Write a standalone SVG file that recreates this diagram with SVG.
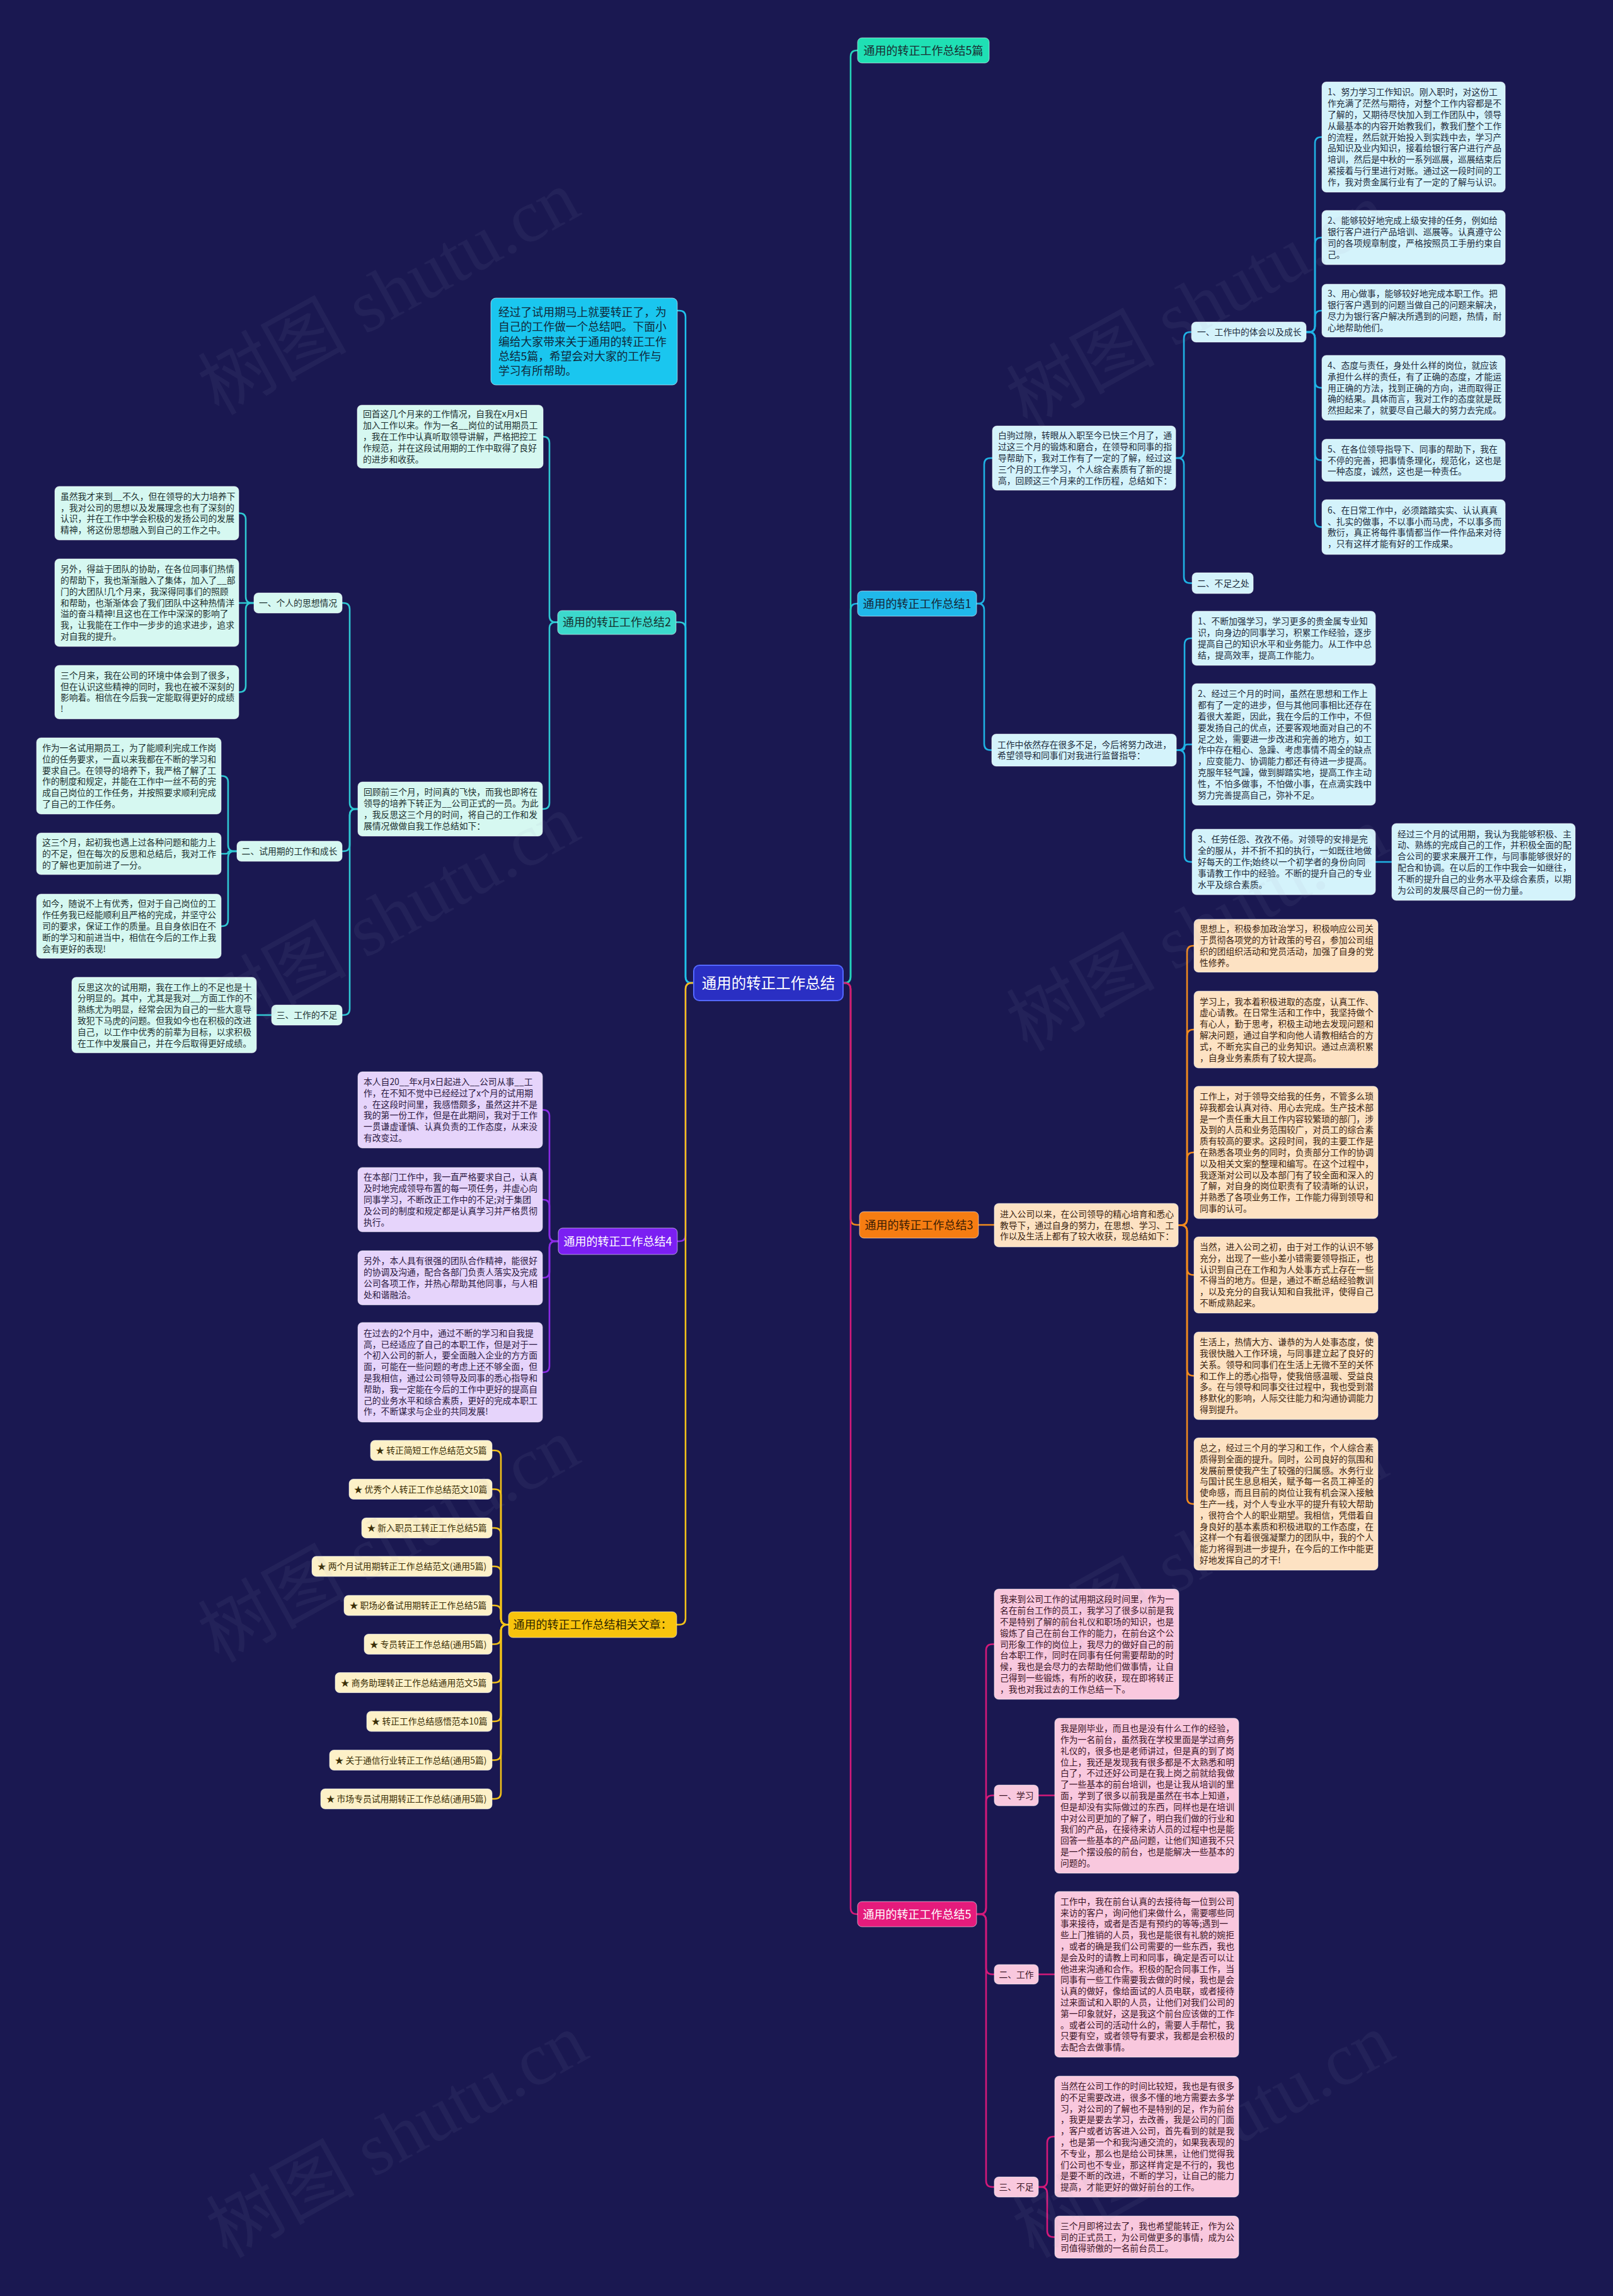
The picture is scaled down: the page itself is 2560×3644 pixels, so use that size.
<svg xmlns="http://www.w3.org/2000/svg" width="2560" height="3644" viewBox="0 0 2560 3644">
<style>
.t{font-family:"Noto Sans CJK SC","Noto Sans",sans-serif;font-size:13.8px}
.m{font-family:"Noto Sans CJK SC","Noto Sans",sans-serif;font-size:18px}
.c{fill:none;stroke-width:2.6;stroke-linecap:round;stroke-linejoin:round}
.bx{stroke:#ffffff;stroke-opacity:.55;stroke-width:1}
.blue rect{fill:#d4f3fb}.blue text{fill:#1c2b3c}
.aqua rect{fill:#d6f8f1}.aqua text{fill:#1c3030}
.org rect{fill:#fde2c3}.org text{fill:#3b2410}
.pnk rect{fill:#f9c8de}.pnk text{fill:#3b1526}
.pur rect{fill:#e6d4fb}.pur text{fill:#2a1840}
.yel rect{fill:#fdf1c8}.yel text{fill:#3a2e05}
.wm{font-family:"Liberation Serif","Noto Sans CJK SC",serif;font-size:118px;fill:#a0a0c0;opacity:.07}
</style>
<rect width="2560" height="3644" fill="#1a1851"/>

<g id="connectors">
<path class="c" stroke="#1fb2e4" d="M1338,1560 H1340 Q1350,1560 1350,1550 V968 Q1350,958 1360,958 H1362"/>
<path class="c" stroke="#25d4b8" d="M1338,1560 H1340 Q1350,1560 1350,1550 V90 Q1350,80 1360,80 H1362"/>
<path class="c" stroke="#f08a1e" d="M1338,1560 H1340 Q1350,1560 1350,1570 V1934 Q1350,1944 1360,1944 H1364"/>
<path class="c" stroke="#d4197a" d="M1338,1560 H1340 Q1350,1560 1350,1570 V3028 Q1350,3038 1360,3038 H1362"/>
<path class="c" stroke="#2fc8d2" d="M1101,1560 H1098 Q1088,1560 1088,1550 V997.5 Q1088,987.5 1078,987.5 H1073"/>
<path class="c" stroke="#1fc2ec" d="M1101,1560 H1098 Q1088,1560 1088,1550 V503 Q1088,493 1078,493 H1075"/>
<path class="c" stroke="#8b2be6" d="M1101,1560 H1098 Q1088,1560 1088,1570 V1960 Q1088,1970 1078,1970 H1075"/>
<path class="c" stroke="#f2c21a" d="M1101,1560 H1098 Q1088,1560 1088,1570 V2568.5 Q1088,2578.5 1078,2578.5 H1074"/>

<g stroke="#1fb2e4" class="c">
<path d="M1550,958 H1552 Q1562,958 1562,948 V737 Q1562,727 1572,727 H1575"/>
<path d="M1550,958 H1552 Q1562,958 1562,968 V1180.5 Q1562,1190.5 1572,1190.5 H1574"/>
<path d="M1866,727 H1869 Q1879,727 1879,717 V537 Q1879,527 1889,527 H1891"/>
<path d="M1866,727 H1869 Q1879,727 1879,737 V915.5 Q1879,925.5 1889,925.5 H1892"/>
<path d="M2073,527 H2077 Q2087,527 2087,517 V227.5 Q2087,217.5 2097,217.5 H2098"/>
<path d="M2073,527 H2077 Q2087,527 2087,517 V387 Q2087,377 2097,377 H2098"/>
<path d="M2073,527 H2077 Q2087,527 2087,517 V503 Q2087,493 2097,493 H2098"/>
<path d="M2073,527 H2077 Q2087,527 2087,537 V605.5 Q2087,615.5 2097,615.5 H2098"/>
<path d="M2073,527 H2077 Q2087,527 2087,537 V720.5 Q2087,730.5 2097,730.5 H2098"/>
<path d="M2073,527 H2077 Q2087,527 2087,537 V826.5 Q2087,836.5 2097,836.5 H2098"/>
<path d="M1867,1190.5 H1870 Q1880,1190.5 1880,1180.5 V1023 Q1880,1013 1890,1013 H1892"/>
<path d="M1867,1190.5 H1875 Q1880,1190.5 1880,1186 Q1880,1181.5 1885,1181.5 H1892"/>
<path d="M1867,1190.5 H1870 Q1880,1190.5 1880,1200.5 V1358 Q1880,1368 1890,1368 H1892"/>
<path d="M2183,1368 H2209"/>
</g>
<g stroke="#f08a1e" class="c">
<path d="M1553,1944 H1578"/>
<path d="M1870,1944.5 H1874 Q1884,1944.5 1884,1934.5 V1511 Q1884,1501 1894,1501 H1895"/>
<path d="M1870,1944.5 H1874 Q1884,1944.5 1884,1934.5 V1644 Q1884,1634 1894,1634 H1895"/>
<path d="M1870,1944.5 H1874 Q1884,1944.5 1884,1934.5 V1839 Q1884,1829 1894,1829 H1895"/>
<path d="M1870,1944.5 H1874 Q1884,1944.5 1884,1954.5 V2013.5 Q1884,2023.5 1894,2023.5 H1895"/>
<path d="M1870,1944.5 H1874 Q1884,1944.5 1884,1954.5 V2173.5 Q1884,2183.5 1894,2183.5 H1895"/>
<path d="M1870,1944.5 H1874 Q1884,1944.5 1884,1954.5 V2377 Q1884,2387 1894,2387 H1895"/>
</g>
<g stroke="#d4197a" class="c">
<path d="M1550,3038 H1555 Q1565,3038 1565,3028 V2619.5 Q1565,2609.5 1575,2609.5 H1578"/>
<path d="M1550,3038 H1555 Q1565,3038 1565,3028 V2859.5 Q1565,2849.5 1575,2849.5 H1578"/>
<path d="M1550,3038 H1555 Q1565,3038 1565,3048 V3123.5 Q1565,3133.5 1575,3133.5 H1578"/>
<path d="M1550,3038 H1555 Q1565,3038 1565,3048 V3461 Q1565,3471 1575,3471 H1578"/>
<path d="M1648,2849.5 H1674"/>
<path d="M1648,3133.5 H1674"/>
<path d="M1648,3471 H1652 Q1662,3471 1662,3461 V3401 Q1662,3391 1672,3391 H1674"/>
<path d="M1648,3471 H1652 Q1662,3471 1662,3481 V3540.5 Q1662,3550.5 1672,3550.5 H1674"/>
</g>
<g stroke="#2fc8d2" class="c">
<path d="M885,987.5 H882 Q872,987.5 872,977.5 V703 Q872,693 862,693"/>
<path d="M885,987.5 H882 Q872,987.5 872,997.5 V1274 Q872,1284 862,1284 H861"/>
<path d="M568,1284 H565 Q555,1284 555,1274 V967 Q555,957 545,957 H543"/>
<path d="M568,1284 H565 Q555,1284 555,1294 V1341 Q555,1351 545,1351 H543"/>
<path d="M568,1284 H565 Q555,1284 555,1294 V1601 Q555,1611 545,1611 H543"/>
<path d="M403,957 H400 Q390,957 390,947 V824.5 Q390,814.5 380,814.5 H379"/>
<path d="M403,957 H379"/>
<path d="M403,957 H400 Q390,957 390,967 V1088.5 Q390,1098.5 380,1098.5 H379"/>
<path d="M376,1351 H372 Q362,1351 362,1341 V1241.5 Q362,1231.5 352,1231.5 H351"/>
<path d="M376,1351 H366 Q362,1351 362,1353 Q362,1355 358,1355 H351"/>
<path d="M376,1351 H372 Q362,1351 362,1361 V1460 Q362,1470 352,1470 H351"/>
<path d="M431,1611 H407"/>
</g>
<g stroke="#8b2be6" class="c">
<path d="M886,1970 H882 Q872,1970 872,1960 V1771.5 Q872,1761.5 862,1761.5 H861"/>
<path d="M886,1970 H882 Q872,1970 872,1960 V1914 Q872,1904 862,1904 H861"/>
<path d="M886,1970 H882 Q872,1970 872,1980 V2018 Q872,2028 862,2028 H861"/>
<path d="M886,1970 H882 Q872,1970 872,1980 V2168 Q872,2178 862,2178 H861"/>
</g>
<g stroke="#f2c21a" class="c">
<path d="M807,2578.5 H805 Q795,2578.5 795,2568.5 V2312 Q795,2302 785,2302 H781"/>
<path d="M807,2578.5 H805 Q795,2578.5 795,2568.5 V2373.5 Q795,2363.5 785,2363.5 H781"/>
<path d="M807,2578.5 H805 Q795,2578.5 795,2568.5 V2435 Q795,2425 785,2425 H781"/>
<path d="M807,2578.5 H805 Q795,2578.5 795,2568.5 V2496 Q795,2486 785,2486 H781"/>
<path d="M807,2578.5 H805 Q795,2578.5 795,2568.5 V2558 Q795,2548 785,2548 H781"/>
<path d="M807,2578.5 H805 Q795,2578.5 795,2588.5 V2599.5 Q795,2609.5 785,2609.5 H781"/>
<path d="M807,2578.5 H805 Q795,2578.5 795,2588.5 V2660.5 Q795,2670.5 785,2670.5 H781"/>
<path d="M807,2578.5 H805 Q795,2578.5 795,2588.5 V2722 Q795,2732 785,2732 H781"/>
<path d="M807,2578.5 H805 Q795,2578.5 795,2588.5 V2783.5 Q795,2793.5 785,2793.5 H781"/>
<path d="M807,2578.5 H805 Q795,2578.5 795,2588.5 V2845 Q795,2855 785,2855 H781"/>
</g>
</g>

<g id="root">
<rect x="1101" y="1532" width="237" height="56" rx="9" fill="#2a2fc3" stroke="#5468ff" stroke-width="2"/>
<text x="1219.5" y="1568.5" text-anchor="middle" font-family="Noto Sans CJK SC, sans-serif" font-size="23.5" fill="#ffffff">通用的转正工作总结</text>
</g>

<g id="b-5pian"><rect class="bx" x="1361" y="60" width="209" height="40" rx="7" fill="#1fe0b4"/><text class="m" x="1465.5" y="86.5" text-anchor="middle" fill="#1a2a30">通用的转正工作总结5篇</text></g>
<g id="b-1"><rect class="bx" x="1361" y="938" width="189" height="40" rx="7" fill="#20b8ea"/><text class="m" x="1455.5" y="964.5" text-anchor="middle" fill="#152536">通用的转正工作总结1</text></g>
<g id="b-3"><rect class="bx" x="1364" y="1923" width="189" height="42" rx="7" fill="#f67d12"/><text class="m" x="1458.5" y="1950.5" text-anchor="middle" fill="#3a1c04">通用的转正工作总结3</text></g>
<g id="b-5"><rect class="bx" x="1361" y="3018" width="189" height="40" rx="7" fill="#e51b7c"/><text class="m" x="1455.5" y="3044.5" text-anchor="middle" fill="#ffffff">通用的转正工作总结5</text></g>
<g id="b-2"><rect class="bx" x="885" y="969" width="188" height="38" rx="7" fill="#3cd9cc"/><text class="m" x="979" y="994" text-anchor="middle" fill="#16302e">通用的转正工作总结2</text></g>
<g id="b-4"><rect class="bx" x="886" y="1949" width="189" height="42" rx="7" fill="#7b1ff2"/><text class="m" x="980.5" y="1976.5" text-anchor="middle" fill="#ffffff">通用的转正工作总结4</text></g>
<g id="b-rel"><rect class="bx" x="807" y="2558" width="267" height="41" rx="7" fill="#f8c40d"/><text class="m" x="940.5" y="2585" text-anchor="middle" fill="#2e2400">通用的转正工作总结相关文章：</text></g>

<g id="n-intro"><rect class="bx" x="779" y="473" width="296" height="138" rx="8" fill="#1ac6ef"/>
<text x="791" y="501.7" font-family="Noto Sans CJK SC, sans-serif" font-size="17.8" fill="#10283a"><tspan x="791">经过了试用期马上就要转正了，为</tspan><tspan x="791" dy="23.4">自己的工作做一个总结吧。下面小</tspan><tspan x="791" dy="23.4">编给大家带来关于通用的转正工作</tspan><tspan x="791" dy="23.4">总结5篇，希望会对大家的工作与</tspan><tspan x="791" dy="23.4">学习有所帮助。</tspan></text></g>

<g class="blue">
<g id="n1-a"><rect class="bx" x="1575" y="676" width="291" height="102" rx="7"/><text class="t" x="1584" y="696.4"><tspan x="1584">白驹过隙，转眼从入职至今已快三个月了，通</tspan><tspan x="1584" dy="17.8">过这三个月的锻炼和磨合，在领导和同事的指</tspan><tspan x="1584" dy="17.8">导帮助下，我对工作有了一定的了解，经过这</tspan><tspan x="1584" dy="17.8">三个月的工作学习，个人综合素质有了新的提</tspan><tspan x="1584" dy="17.8">高，回顾这三个月来的工作历程，总结如下：</tspan></text></g>
<g id="n1-a1"><rect class="bx" x="1891" y="511" width="182" height="32" rx="7"/><text class="t" x="1900" y="532">一、工作中的体会以及成长</text></g>
<g id="n1-i1"><rect class="bx" x="2098" y="130" width="291" height="175" rx="7"/><text class="t" x="2107" y="151.3"><tspan x="2107">1、努力学习工作知识。刚入职时，对这份工</tspan><tspan x="2107" dy="17.8">作充满了茫然与期待，对整个工作内容都是不</tspan><tspan x="2107" dy="17.8">了解的，又期待尽快加入到工作团队中，领导</tspan><tspan x="2107" dy="17.8">从最基本的内容开始教我们，教我们整个工作</tspan><tspan x="2107" dy="17.8">的流程，然后就开始投入到实践中去，学习产</tspan><tspan x="2107" dy="17.8">品知识及业内知识，接着给银行客户进行产品</tspan><tspan x="2107" dy="17.8">培训，然后是中秋的一系列巡展，巡展结束后</tspan><tspan x="2107" dy="17.8">紧接着与行里进行对账。通过这一段时间的工</tspan><tspan x="2107" dy="17.8">作，我对贵金属行业有了一定的了解与认识。</tspan></text></g>
<g id="n1-i2"><rect class="bx" x="2098" y="334" width="291" height="86" rx="7"/><text class="t" x="2107" y="355.3"><tspan x="2107">2、能够较好地完成上级安排的任务，例如给</tspan><tspan x="2107" dy="17.8">银行客户进行产品培训、巡展等。认真遵守公</tspan><tspan x="2107" dy="17.8">司的各项规章制度，严格按照员工手册约束自</tspan><tspan x="2107" dy="17.8">己。</tspan></text></g>
<g id="n1-i3"><rect class="bx" x="2098" y="451" width="291" height="84" rx="7"/><text class="t" x="2107" y="471.3"><tspan x="2107">3、用心做事，能够较好地完成本职工作。把</tspan><tspan x="2107" dy="17.8">银行客户遇到的问题当做自己的问题来解决，</tspan><tspan x="2107" dy="17.8">尽力为银行客户解决所遇到的问题，热情，耐</tspan><tspan x="2107" dy="17.8">心地帮助他们。</tspan></text></g>
<g id="n1-i4"><rect class="bx" x="2098" y="564" width="291" height="103" rx="7"/><text class="t" x="2107" y="584.9"><tspan x="2107">4、态度与责任，身处什么样的岗位，就应该</tspan><tspan x="2107" dy="17.8">承担什么样的责任，有了正确的态度，才能运</tspan><tspan x="2107" dy="17.8">用正确的方法，找到正确的方向，进而取得正</tspan><tspan x="2107" dy="17.8">确的结果。具体而言，我对工作的态度就是既</tspan><tspan x="2107" dy="17.8">然担起来了，就要尽自己最大的努力去完成。</tspan></text></g>
<g id="n1-i5"><rect class="bx" x="2098" y="697" width="291" height="67" rx="7"/><text class="t" x="2107" y="717.7"><tspan x="2107">5、在各位领导指导下、同事的帮助下，我在</tspan><tspan x="2107" dy="17.8">不停的完善，把事情条理化，规范化，这也是</tspan><tspan x="2107" dy="17.8">一种态度，诚然，这也是一种责任。</tspan></text></g>
<g id="n1-i6"><rect class="bx" x="2098" y="793" width="291" height="87" rx="7"/><text class="t" x="2107" y="814.8"><tspan x="2107">6、在日常工作中，必须踏踏实实、认认真真</tspan><tspan x="2107" dy="17.8">、扎实的做事，不以事小而马虎，不以事多而</tspan><tspan x="2107" dy="17.8">敷衍，真正将每件事情都当作一件作品来对待</tspan><tspan x="2107" dy="17.8">，只有这样才能有好的工作成果。</tspan></text></g>
<g id="n1-a2"><rect class="bx" x="1892" y="909" width="97" height="33" rx="7"/><text class="t" x="1900" y="930.5">二、不足之处</text></g>
<g id="n1-b"><rect class="bx" x="1574" y="1165" width="293" height="51" rx="7"/><text class="t" x="1583" y="1186.6"><tspan x="1583">工作中依然存在很多不足，今后将努力改进，</tspan><tspan x="1583" dy="17.8">希望领导和同事们对我进行监督指导：</tspan></text></g>
<g id="n1-w1"><rect class="bx" x="1892" y="970" width="291" height="86" rx="7"/><text class="t" x="1901" y="991.3"><tspan x="1901">1、不断加强学习，学习更多的贵金属专业知</tspan><tspan x="1901" dy="17.8">识，向身边的同事学习，积累工作经验，逐步</tspan><tspan x="1901" dy="17.8">提高自己的知识水平和业务能力。从工作中总</tspan><tspan x="1901" dy="17.8">结，提高效率，提高工作能力。</tspan></text></g>
<g id="n1-w2"><rect class="bx" x="1892" y="1085" width="291" height="193" rx="7"/><text class="t" x="1901" y="1106.4"><tspan x="1901">2、经过三个月的时间，虽然在思想和工作上</tspan><tspan x="1901" dy="17.8">都有了一定的进步，但与其他同事相比还存在</tspan><tspan x="1901" dy="17.8">着很大差距，因此，我在今后的工作中，不但</tspan><tspan x="1901" dy="17.8">要发扬自己的优点，还要客观地面对自己的不</tspan><tspan x="1901" dy="17.8">足之处，需要进一步改进和完善的地方，如工</tspan><tspan x="1901" dy="17.8">作中存在粗心、急躁、考虑事情不周全的缺点</tspan><tspan x="1901" dy="17.8">，应变能力、协调能力都还有待进一步提高。</tspan><tspan x="1901" dy="17.8">克服年轻气躁，做到脚踏实地，提高工作主动</tspan><tspan x="1901" dy="17.8">性，不怕多做事，不怕做小事，在点滴实践中</tspan><tspan x="1901" dy="17.8">努力完善提高自己，弥补不足。</tspan></text></g>
<g id="n1-w3"><rect class="bx" x="1892" y="1316" width="291" height="104" rx="7"/><text class="t" x="1901" y="1337.4"><tspan x="1901">3、任劳任怨、孜孜不倦。对领导的安排是完</tspan><tspan x="1901" dy="17.8">全的服从，并不折不扣的执行，一如既往地做</tspan><tspan x="1901" dy="17.8">好每天的工作;始终以一个初学者的身份向同</tspan><tspan x="1901" dy="17.8">事请教工作中的经验。不断的提升自己的专业</tspan><tspan x="1901" dy="17.8">水平及综合素质。</tspan></text></g>
<g id="n1-w3a"><rect class="bx" x="2209" y="1307" width="291" height="122" rx="7"/><text class="t" x="2218" y="1328.5"><tspan x="2218">经过三个月的试用期，我认为我能够积极、主</tspan><tspan x="2218" dy="17.8">动、熟练的完成自己的工作，并积极全面的配</tspan><tspan x="2218" dy="17.8">合公司的要求来展开工作，与同事能够很好的</tspan><tspan x="2218" dy="17.8">配合和协调。在以后的工作中我会一如继往，</tspan><tspan x="2218" dy="17.8">不断的提升自己的业务水平及综合素质，以期</tspan><tspan x="2218" dy="17.8">为公司的发展尽自己的一份力量。</tspan></text></g>
</g>

<g class="org">
<g id="n3-a"><rect class="bx" x="1578" y="1910" width="292" height="69" rx="7"/><text class="t" x="1587" y="1931.7"><tspan x="1587">进入公司以来，在公司领导的精心培育和悉心</tspan><tspan x="1587" dy="17.8">教导下，通过自身的努力，在思想、学习、工</tspan><tspan x="1587" dy="17.8">作以及生活上都有了较大收获，现总结如下：</tspan></text></g>
<g id="n3-1"><rect class="bx" x="1895" y="1459" width="292" height="84" rx="7"/><text class="t" x="1904" y="1479.3"><tspan x="1904">思想上，积极参加政治学习，积极响应公司关</tspan><tspan x="1904" dy="17.8">于贯彻各项党的方针政策的号召，参加公司组</tspan><tspan x="1904" dy="17.8">织的团组织活动和党员活动，加强了自身的党</tspan><tspan x="1904" dy="17.8">性修养。</tspan></text></g>
<g id="n3-2"><rect class="bx" x="1895" y="1573" width="292" height="122" rx="7"/><text class="t" x="1904" y="1594.5"><tspan x="1904">学习上，我本着积极进取的态度，认真工作、</tspan><tspan x="1904" dy="17.8">虚心请教。在日常生活和工作中，我坚持做个</tspan><tspan x="1904" dy="17.8">有心人，勤于思考，积极主动地去发现问题和</tspan><tspan x="1904" dy="17.8">解决问题，通过自学和向他人请教相结合的方</tspan><tspan x="1904" dy="17.8">式，不断充实自己的业务知识。通过点滴积累</tspan><tspan x="1904" dy="17.8">，自身业务素质有了较大提高。</tspan></text></g>
<g id="n3-3"><rect class="bx" x="1895" y="1724" width="292" height="210" rx="7"/><text class="t" x="1904" y="1745"><tspan x="1904">工作上，对于领导交给我的任务，不管多么琐</tspan><tspan x="1904" dy="17.8">碎我都会认真对待、用心去完成。生产技术部</tspan><tspan x="1904" dy="17.8">是一个责任重大且工作内容较繁琐的部门，涉</tspan><tspan x="1904" dy="17.8">及到的人员和业务范围较广，对员工的综合素</tspan><tspan x="1904" dy="17.8">质有较高的要求。这段时间，我的主要工作是</tspan><tspan x="1904" dy="17.8">在熟悉各项业务的同时，负责部分工作的协调</tspan><tspan x="1904" dy="17.8">以及相关文案的整理和编写。在这个过程中，</tspan><tspan x="1904" dy="17.8">我逐渐对公司以及本部门有了较全面和深入的</tspan><tspan x="1904" dy="17.8">了解，对自身的岗位职责有了较清晰的认识，</tspan><tspan x="1904" dy="17.8">并熟悉了各项业务工作，工作能力得到领导和</tspan><tspan x="1904" dy="17.8">同事的认可。</tspan></text></g>
<g id="n3-4"><rect class="bx" x="1895" y="1963" width="292" height="121" rx="7"/><text class="t" x="1904" y="1984"><tspan x="1904">当然，进入公司之初，由于对工作的认识不够</tspan><tspan x="1904" dy="17.8">充分，出现了一些小差小错需要领导指正，也</tspan><tspan x="1904" dy="17.8">认识到自己在工作和为人处事方式上存在一些</tspan><tspan x="1904" dy="17.8">不得当的地方。但是，通过不断总结经验教训</tspan><tspan x="1904" dy="17.8">，以及充分的自我认知和自我批评，使得自己</tspan><tspan x="1904" dy="17.8">不断成熟起来。</tspan></text></g>
<g id="n3-5"><rect class="bx" x="1895" y="2114" width="292" height="139" rx="7"/><text class="t" x="1904" y="2135.1"><tspan x="1904">生活上，热情大方、谦恭的为人处事态度，使</tspan><tspan x="1904" dy="17.8">我很快融入工作环境，与同事建立起了良好的</tspan><tspan x="1904" dy="17.8">关系。领导和同事们在生活上无微不至的关怀</tspan><tspan x="1904" dy="17.8">和工作上的悉心指导，使我倍感温暖、受益良</tspan><tspan x="1904" dy="17.8">多。在与领导和同事交往过程中，我也受到潜</tspan><tspan x="1904" dy="17.8">移默化的影响，人际交往能力和沟通协调能力</tspan><tspan x="1904" dy="17.8">得到提升。</tspan></text></g>
<g id="n3-6"><rect class="bx" x="1895" y="2282" width="292" height="210" rx="7"/><text class="t" x="1904" y="2303"><tspan x="1904">总之，经过三个月的学习和工作，个人综合素</tspan><tspan x="1904" dy="17.8">质得到全面的提升。同时，公司良好的氛围和</tspan><tspan x="1904" dy="17.8">发展前景使我产生了较强的归属感。水务行业</tspan><tspan x="1904" dy="17.8">与国计民生息息相关，赋予每一名员工神圣的</tspan><tspan x="1904" dy="17.8">使命感，而且目前的岗位让我有机会深入接触</tspan><tspan x="1904" dy="17.8">生产一线，对个人专业水平的提升有较大帮助</tspan><tspan x="1904" dy="17.8">，很符合个人的职业期望。我相信，凭借着自</tspan><tspan x="1904" dy="17.8">身良好的基本素质和积极进取的工作态度，在</tspan><tspan x="1904" dy="17.8">这样一个有着很强凝聚力的团队中，我的个人</tspan><tspan x="1904" dy="17.8">能力将得到进一步提升，在今后的工作中能更</tspan><tspan x="1904" dy="17.8">好地发挥自己的才干!</tspan></text></g>
</g>

<g class="pnk">
<g id="n5-a"><rect class="bx" x="1578" y="2522" width="293" height="175" rx="7"/><text class="t" x="1587" y="2543.3"><tspan x="1587">我来到公司工作的试用期这段时间里，作为一</tspan><tspan x="1587" dy="17.8">名在前台工作的员工，我学习了很多以前是我</tspan><tspan x="1587" dy="17.8">不是特别了解的前台礼仪和职场的知识，也是</tspan><tspan x="1587" dy="17.8">锻炼了自己在前台工作的能力，在前台这个公</tspan><tspan x="1587" dy="17.8">司形象工作的岗位上，我尽力的做好自己的前</tspan><tspan x="1587" dy="17.8">台本职工作，同时在同事有任何需要帮助的时</tspan><tspan x="1587" dy="17.8">候，我也是会尽力的去帮助他们做事情，让自</tspan><tspan x="1587" dy="17.8">己得到一些锻炼，有所的收获，现在即将转正</tspan><tspan x="1587" dy="17.8">，我也对我过去的工作总结一下。</tspan></text></g>
<g id="n5-b"><rect class="bx" x="1578" y="2833" width="70" height="33" rx="7"/><text class="t" x="1613" y="2854.5" text-anchor="middle">一、学习</text></g>
<g id="n5-b1"><rect class="bx" x="1674" y="2727" width="292" height="246" rx="7"/><text class="t" x="1683" y="2748.2"><tspan x="1683">我是刚毕业，而且也是没有什么工作的经验，</tspan><tspan x="1683" dy="17.8">作为一名前台，虽然我在学校里面是学过商务</tspan><tspan x="1683" dy="17.8">礼仪的，很多也是老师讲过，但是真的到了岗</tspan><tspan x="1683" dy="17.8">位上，我还是发现我有很多都是不太熟悉和明</tspan><tspan x="1683" dy="17.8">白了，不过还好公司是在我上岗之前就给我做</tspan><tspan x="1683" dy="17.8">了一些基本的前台培训，也是让我从培训的里</tspan><tspan x="1683" dy="17.8">面，学到了很多以前我是虽然在书本上知道，</tspan><tspan x="1683" dy="17.8">但是却没有实际做过的东西，同样也是在培训</tspan><tspan x="1683" dy="17.8">中对公司更加的了解了，明白我们做的行业和</tspan><tspan x="1683" dy="17.8">我们的产品，在接待来访人员的过程中也是能</tspan><tspan x="1683" dy="17.8">回答一些基本的产品问题，让他们知道我不只</tspan><tspan x="1683" dy="17.8">是一个摆设般的前台，也是能解决一些基本的</tspan><tspan x="1683" dy="17.8">问题的。</tspan></text></g>
<g id="n5-c"><rect class="bx" x="1578" y="3118" width="70" height="31" rx="7"/><text class="t" x="1613" y="3138.5" text-anchor="middle">二、工作</text></g>
<g id="n5-c1"><rect class="bx" x="1674" y="3002" width="292" height="263" rx="7"/><text class="t" x="1683" y="3022.8"><tspan x="1683">工作中，我在前台认真的去接待每一位到公司</tspan><tspan x="1683" dy="17.8">来访的客户，询问他们来做什么，需要哪些同</tspan><tspan x="1683" dy="17.8">事来接待，或者是否是有预约的等等;遇到一</tspan><tspan x="1683" dy="17.8">些上门推销的人员，我也是能很有礼貌的婉拒</tspan><tspan x="1683" dy="17.8">，或者的确是我们公司需要的一些东西，我也</tspan><tspan x="1683" dy="17.8">是会及时的请教上司和同事，确定是否可以让</tspan><tspan x="1683" dy="17.8">他进来沟通和合作。积极的配合同事工作，当</tspan><tspan x="1683" dy="17.8">同事有一些工作需要我去做的时候，我也是会</tspan><tspan x="1683" dy="17.8">认真的做好，像给面试的人员电联，或者接待</tspan><tspan x="1683" dy="17.8">过来面试和入职的人员，让他们对我们公司的</tspan><tspan x="1683" dy="17.8">第一印象就好，这是我这个前台应该做的工作</tspan><tspan x="1683" dy="17.8">。或者公司的活动什么的，需要人手帮忙，我</tspan><tspan x="1683" dy="17.8">只要有空，或者领导有要求，我都是会积极的</tspan><tspan x="1683" dy="17.8">去配合去做事情。</tspan></text></g>
<g id="n5-d"><rect class="bx" x="1578" y="3455" width="70" height="32" rx="7"/><text class="t" x="1613" y="3476" text-anchor="middle">三、不足</text></g>
<g id="n5-d1"><rect class="bx" x="1674" y="3295" width="292" height="192" rx="7"/><text class="t" x="1683" y="3315.9"><tspan x="1683">当然在公司工作的时间比较短，我也是有很多</tspan><tspan x="1683" dy="17.8">的不足需要改进，很多不懂的地方需要去多学</tspan><tspan x="1683" dy="17.8">习，对公司的了解也不是特别的足，作为前台</tspan><tspan x="1683" dy="17.8">，我更是要去学习，去改善，我是公司的门面</tspan><tspan x="1683" dy="17.8">，客户或者访客进入公司，首先看到的就是我</tspan><tspan x="1683" dy="17.8">，也是第一个和我沟通交流的，如果我表现的</tspan><tspan x="1683" dy="17.8">不专业，那么也是给公司抹黑，让他们觉得我</tspan><tspan x="1683" dy="17.8">们公司也不专业，那这样肯定是不行的，我也</tspan><tspan x="1683" dy="17.8">是要不断的改进，不断的学习，让自己的能力</tspan><tspan x="1683" dy="17.8">提高，才能更好的做好前台的工作。</tspan></text></g>
<g id="n5-d2"><rect class="bx" x="1674" y="3517" width="292" height="67" rx="7"/><text class="t" x="1683" y="3537.7"><tspan x="1683">三个月即将过去了，我也希望能转正，作为公</tspan><tspan x="1683" dy="17.8">司的正式员工，为公司做更多的事情，成为公</tspan><tspan x="1683" dy="17.8">司值得骄傲的一名前台员工。</tspan></text></g>
</g>

<g class="aqua">
<g id="n2-a"><rect class="bx" x="567" y="643" width="295" height="100" rx="7"/><text class="t" x="576" y="662.4"><tspan x="576">回首这几个月来的工作情况，自我在x月x日</tspan><tspan x="576" dy="17.8">加入工作以来。作为一名__岗位的试用期员工</tspan><tspan x="576" dy="17.8">，我在工作中认真听取领导讲解，严格把控工</tspan><tspan x="576" dy="17.8">作规范，并在这段试用期的工作中取得了良好</tspan><tspan x="576" dy="17.8">的进步和收获。</tspan></text></g>
<g id="n2-b"><rect class="bx" x="568" y="1241" width="293" height="86" rx="7"/><text class="t" x="577" y="1262.3"><tspan x="577">回顾前三个月，时间真的飞快，而我也即将在</tspan><tspan x="577" dy="17.8">领导的培养下转正为__公司正式的一员。为此</tspan><tspan x="577" dy="17.8">，我反思这三个月的时间，将自己的工作和发</tspan><tspan x="577" dy="17.8">展情况做做自我工作总结如下：</tspan></text></g>
<g id="n2-b1"><rect class="bx" x="403" y="941" width="140" height="32" rx="7"/><text class="t" x="473" y="962" text-anchor="middle">一、个人的思想情况</text></g>
<g id="n2-b2"><rect class="bx" x="376" y="1335" width="167" height="32" rx="7"/><text class="t" x="459.5" y="1356" text-anchor="middle">二、试用期的工作和成长</text></g>
<g id="n2-b3"><rect class="bx" x="431" y="1595" width="112" height="32" rx="7"/><text class="t" x="487" y="1616" text-anchor="middle">三、工作的不足</text></g>
<g id="n2-b1a"><rect class="bx" x="87" y="772" width="292" height="85" rx="7"/><text class="t" x="96" y="792.8"><tspan x="96">虽然我才来到__不久，但在领导的大力培养下</tspan><tspan x="96" dy="17.8">，我对公司的思想以及发展理念也有了深刻的</tspan><tspan x="96" dy="17.8">认识，并在工作中学会积极的发扬公司的发展</tspan><tspan x="96" dy="17.8">精神，将这份思想融入到自己的工作之中。</tspan></text></g>
<g id="n2-b1b"><rect class="bx" x="87" y="887" width="292" height="139" rx="7"/><text class="t" x="96" y="908.1"><tspan x="96">另外，得益于团队的协助，在各位同事们热情</tspan><tspan x="96" dy="17.8">的帮助下，我也渐渐融入了集体，加入了__部</tspan><tspan x="96" dy="17.8">门的大团队!几个月来，我深得同事们的照顾</tspan><tspan x="96" dy="17.8">和帮助，也渐渐体会了我们团队中这种热情洋</tspan><tspan x="96" dy="17.8">溢的奋斗精神!且这也在工作中深深的影响了</tspan><tspan x="96" dy="17.8">我，让我能在工作中一步步的追求进步，追求</tspan><tspan x="96" dy="17.8">对自我的提升。</tspan></text></g>
<g id="n2-b1c"><rect class="bx" x="87" y="1056" width="292" height="85" rx="7"/><text class="t" x="96" y="1076.8"><tspan x="96">三个月来，我在公司的环境中体会到了很多，</tspan><tspan x="96" dy="17.8">但在认识这些精神的同时，我也在被不深刻的</tspan><tspan x="96" dy="17.8">影响着。相信在今后我一定能取得更好的成绩</tspan><tspan x="96" dy="17.8">!</tspan></text></g>
<g id="n2-b2a"><rect class="bx" x="58" y="1171" width="293" height="121" rx="7"/><text class="t" x="67" y="1192"><tspan x="67">作为一名试用期员工，为了能顺利完成工作岗</tspan><tspan x="67" dy="17.8">位的任务要求，一直以来我都在不断的学习和</tspan><tspan x="67" dy="17.8">要求自己。在领导的培养下，我严格了解了工</tspan><tspan x="67" dy="17.8">作的制度和规定，并能在工作中一丝不苟的完</tspan><tspan x="67" dy="17.8">成自己岗位的工作任务，并按照要求顺利完成</tspan><tspan x="67" dy="17.8">了自己的工作任务。</tspan></text></g>
<g id="n2-b2b"><rect class="bx" x="58" y="1322" width="293" height="66" rx="7"/><text class="t" x="67" y="1342.2"><tspan x="67">这三个月，起初我也遇上过各种问题和能力上</tspan><tspan x="67" dy="17.8">的不足，但在每次的反思和总结后，我对工作</tspan><tspan x="67" dy="17.8">的了解也更加前进了一分。</tspan></text></g>
<g id="n2-b2c"><rect class="bx" x="58" y="1419" width="293" height="102" rx="7"/><text class="t" x="67" y="1439.4"><tspan x="67">如今，随说不上有优秀，但对于自己岗位的工</tspan><tspan x="67" dy="17.8">作任务我已经能顺利且严格的完成，并坚守公</tspan><tspan x="67" dy="17.8">司的要求，保证工作的质量。且自身依旧在不</tspan><tspan x="67" dy="17.8">断的学习和前进当中，相信在今后的工作上我</tspan><tspan x="67" dy="17.8">会有更好的表现!</tspan></text></g>
<g id="n2-b3a"><rect class="bx" x="114" y="1551" width="293" height="120" rx="7"/><text class="t" x="123" y="1571.5"><tspan x="123">反思这次的试用期，我在工作上的不足也是十</tspan><tspan x="123" dy="17.8">分明显的。其中，尤其是我对__方面工作的不</tspan><tspan x="123" dy="17.8">熟练尤为明显，经常会因为自己的一些大意导</tspan><tspan x="123" dy="17.8">致犯下马虎的问题。但我如今也在积极的改进</tspan><tspan x="123" dy="17.8">自己，以工作中优秀的前辈为目标，以求积极</tspan><tspan x="123" dy="17.8">在工作中发展自己，并在今后取得更好成绩。</tspan></text></g>
</g>

<g class="pur">
<g id="n4-1"><rect class="bx" x="568" y="1701" width="293" height="121" rx="7"/><text class="t" x="577" y="1722"><tspan x="577">本人自20__年x月x日起进入__公司从事__工</tspan><tspan x="577" dy="17.8">作，在不知不觉中已经经过了x个月的试用期</tspan><tspan x="577" dy="17.8">。在这段时间里，我感悟颇多，虽然这并不是</tspan><tspan x="577" dy="17.8">我的第一份工作，但是在此期间，我对于工作</tspan><tspan x="577" dy="17.8">一贯谦虚谨慎、认真负责的工作态度，从来没</tspan><tspan x="577" dy="17.8">有改变过。</tspan></text></g>
<g id="n4-2"><rect class="bx" x="568" y="1853" width="293" height="102" rx="7"/><text class="t" x="577" y="1873.4"><tspan x="577">在本部门工作中，我一直严格要求自己，认真</tspan><tspan x="577" dy="17.8">及时地完成领导布置的每一项任务，并虚心向</tspan><tspan x="577" dy="17.8">同事学习，不断改正工作中的不足;对于集团</tspan><tspan x="577" dy="17.8">及公司的制度和规定都是认真学习并严格贯彻</tspan><tspan x="577" dy="17.8">执行。</tspan></text></g>
<g id="n4-3"><rect class="bx" x="568" y="1985" width="293" height="86" rx="7"/><text class="t" x="577" y="2006.3"><tspan x="577">另外，本人具有很强的团队合作精神，能很好</tspan><tspan x="577" dy="17.8">的协调及沟通，配合各部门负责人落实及完成</tspan><tspan x="577" dy="17.8">公司各项工作，并热心帮助其他同事，与人相</tspan><tspan x="577" dy="17.8">处和谐融洽。</tspan></text></g>
<g id="n4-4"><rect class="bx" x="568" y="2099" width="293" height="158" rx="7"/><text class="t" x="577" y="2120.7"><tspan x="577">在过去的2个月中，通过不断的学习和自我提</tspan><tspan x="577" dy="17.8">高，已经适应了自己的本职工作，但是对于一</tspan><tspan x="577" dy="17.8">个初入公司的新人，要全面融入企业的方方面</tspan><tspan x="577" dy="17.8">面，可能在一些问题的考虑上还不够全面，但</tspan><tspan x="577" dy="17.8">是我相信，通过公司领导及同事的悉心指导和</tspan><tspan x="577" dy="17.8">帮助，我一定能在今后的工作中更好的提高自</tspan><tspan x="577" dy="17.8">己的业务水平和综合素质，更好的完成本职工</tspan><tspan x="577" dy="17.8">作，不断谋求与企业的共同发展!</tspan></text></g>
</g>

<g class="yel">
<g id="r1"><rect class="bx" x="588" y="2286" width="193" height="32" rx="7"/><text class="t" x="684.5" y="2307" text-anchor="middle">★ 转正简短工作总结范文5篇</text></g>
<g id="r2"><rect class="bx" x="554" y="2347.5" width="227" height="32" rx="7"/><text class="t" x="667.5" y="2368.5" text-anchor="middle">★ 优秀个人转正工作总结范文10篇</text></g>
<g id="r3"><rect class="bx" x="574" y="2409" width="207" height="32" rx="7"/><text class="t" x="677.5" y="2430" text-anchor="middle">★ 新入职员工转正工作总结5篇</text></g>
<g id="r4"><rect class="bx" x="495" y="2470" width="286" height="32" rx="7"/><text class="t" x="638" y="2491" text-anchor="middle">★ 两个月试用期转正工作总结范文(通用5篇)</text></g>
<g id="r5"><rect class="bx" x="546" y="2532" width="235" height="32" rx="7"/><text class="t" x="663.5" y="2553" text-anchor="middle">★ 职场必备试用期转正工作总结5篇</text></g>
<g id="r6"><rect class="bx" x="578" y="2593.5" width="203" height="32" rx="7"/><text class="t" x="679.5" y="2614.5" text-anchor="middle">★ 专员转正工作总结(通用5篇)</text></g>
<g id="r7"><rect class="bx" x="532" y="2654.5" width="249" height="32" rx="7"/><text class="t" x="656.5" y="2675.5" text-anchor="middle">★ 商务助理转正工作总结通用范文5篇</text></g>
<g id="r8"><rect class="bx" x="582" y="2716" width="199" height="32" rx="7"/><text class="t" x="681.5" y="2737" text-anchor="middle">★ 转正工作总结感悟范本10篇</text></g>
<g id="r9"><rect class="bx" x="523" y="2777.5" width="258" height="32" rx="7"/><text class="t" x="652" y="2798.5" text-anchor="middle">★ 关于通信行业转正工作总结(通用5篇)</text></g>
<g id="r10"><rect class="bx" x="509" y="2839" width="272" height="32" rx="7"/><text class="t" x="645" y="2860" text-anchor="middle">★ 市场专员试用期转正工作总结(通用5篇)</text></g>
</g>

<g id="watermark">
<text class="wm" transform="translate(347,660) rotate(-29)">树图 shutu.cn</text>
<text class="wm" transform="translate(1630,680) rotate(-29)">树图 shutu.cn</text>
<text class="wm" transform="translate(347,1650) rotate(-29)">树图 shutu.cn</text>
<text class="wm" transform="translate(1630,1670) rotate(-29)">树图 shutu.cn</text>
<text class="wm" transform="translate(347,2640) rotate(-29)">树图 shutu.cn</text>
<text class="wm" transform="translate(1630,2660) rotate(-29)">树图 shutu.cn</text>
<text class="wm" transform="translate(360,3585) rotate(-29)">树图 shutu.cn</text>
<text class="wm" transform="translate(1640,3585) rotate(-29)">树图 shutu.cn</text>
</g>
</svg>
